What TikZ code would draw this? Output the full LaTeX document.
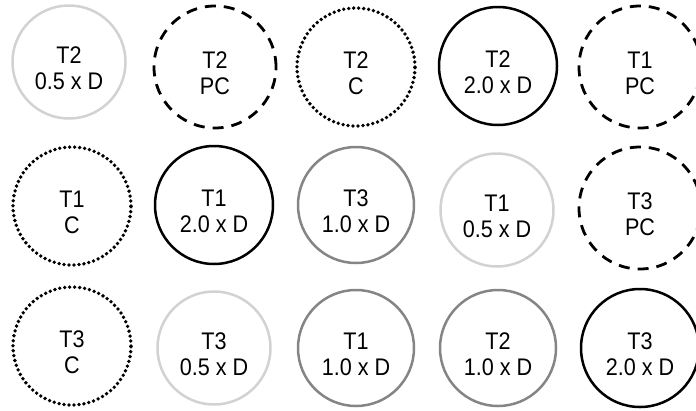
\documentclass[tikz,border=0pt]{standalone}
\usepackage{fontspec}
\setmainfont{Liberation Sans}[FakeStretch=0.9]
\definecolor{lightring}{HTML}{D2D2D2}
\definecolor{midring}{HTML}{858585}
\begin{document}
\begin{tikzpicture}[x=1pt,y=-1pt,
  ltext/.style={align=center, inner sep=0pt, yshift=-6pt,
    font=\fontsize{24}{26}\selectfont, text=black},
  ring/.style={circle, inner sep=0pt, line width=2.5pt},
  light/.style={ring, draw=lightring, minimum size=113pt},
  mid/.style={ring, draw=midring, minimum size=116pt},
  dark/.style={ring, draw=black, minimum size=118pt},
  dotring/.style={ring, draw=black, minimum size=118pt, line width=3.8pt, line cap=round, dash pattern=on 0pt off 5pt},
  dashring/.style={ring, draw=black, minimum size=122pt, line width=2.8pt, dash pattern=on 11pt off 8pt}]
\useasboundingbox (0,0) rectangle (696,410);
% row 1
\node[light,    label={[ltext]center:T2\\0.5 x D}] (a1) at (69,62)  {};
\node[dashring, label={[ltext]center:T2\\PC}]      (a2) at (215,67) {};
\node[dotring,  label={[ltext]center:T2\\C}]       (a3) at (356,67) {};
\node[dark,     label={[ltext]center:T2\\2.0 x D}] (a4) at (498,66) {};
\node[dashring, label={[ltext]center:T1\\PC}]      (a5) at (640,67) {};
% row 2
\node[dotring,  label={[ltext]center:T1\\C}]       (b1) at (72,206)  {};
\node[dark,     label={[ltext]center:T1\\2.0 x D}] (b2) at (214,205) {};
\node[mid,      label={[ltext]center:T3\\1.0 x D}] (b3) at (356,205) {};
\node[light,    label={[ltext]center:T1\\0.5 x D}] (b4) at (497,210) {};
\node[dashring, label={[ltext]center:T3\\PC}]      (b5) at (640,208) {};
% row 3
\node[dotring,  label={[ltext]center:T3\\C}]       (c1) at (72,346)  {};
\node[light,    label={[ltext]center:T3\\0.5 x D}] (c2) at (214,348) {};
\node[mid,      label={[ltext]center:T1\\1.0 x D}] (c3) at (356,348) {};
\node[mid,      label={[ltext]center:T2\\1.0 x D}] (c4) at (498,348) {};
\node[dark,     label={[ltext]center:T3\\2.0 x D}] (c5) at (640,348) {};
\end{tikzpicture}
\end{document}
